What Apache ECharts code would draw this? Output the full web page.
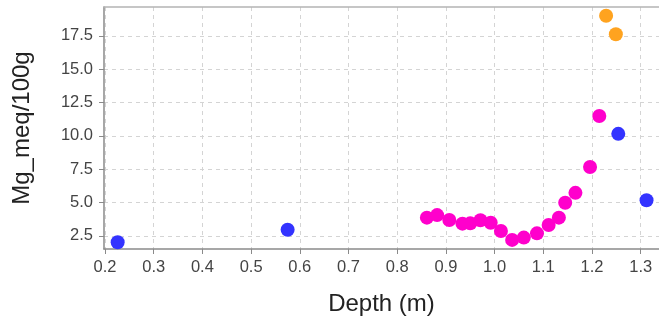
<!DOCTYPE html>
<html><head><meta charset="utf-8">
<script src="https://cdn.jsdelivr.net/npm/echarts@6/dist/echarts.min.js"></script>
<style>html,body{margin:0;padding:0;background:#fff}#c{width:659px;height:321px}</style>
</head><body><div id="c"></div>
<script>
const blueDepth = [0.226, 0.575, 1.254, 1.312];
const blueMg = [2.01, 2.95, 10.15, 5.17];
const magentaDepth = [0.861, 0.882, 0.907, 0.934, 0.950, 0.971, 0.992, 1.013, 1.036, 1.060, 1.087, 1.111, 1.132, 1.145, 1.166, 1.196, 1.215];
const magentaMg = [3.86, 4.05, 3.68, 3.41, 3.43, 3.66, 3.48, 2.86, 2.19, 2.36, 2.68, 3.31, 3.86, 4.98, 5.72, 7.66, 11.49];
const orangeDepth = [1.229, 1.249];
const orangeMg = [19.01, 17.63];
const xTicks = [0.2, 0.3, 0.4, 0.5, 0.6, 0.7, 0.8, 0.9, 1.0, 1.1, 1.2, 1.3];
const yTicks = [2.5, 5.0, 7.5, 10.0, 12.5, 15.0, 17.5];

const pair = (xs, ys) => xs.map((x, i) => [x, ys[i]]);
const font = 'Liberation Sans';
const chart = echarts.init(document.getElementById('c'), null, {renderer: 'canvas'});
const mk = (data, color) => ({
  type: 'scatter', data, symbolSize: 14, animation: false,
  itemStyle: {color, opacity: 1}
});
const X_MIN = 0.19795, X_MAX = 1.3376;
chart.setOption({
  animation: false,
  grid: {left: 104, right: 0, top: 7, bottom: 71, show: false},
  xAxis: [{
    type: 'value', min: X_MIN, max: X_MAX,
    name: 'Depth (m)', nameLocation: 'middle', nameGap: 43,
    nameTextStyle: {fontFamily: font, fontSize: 24, color: '#222'},
    axisLine: {show: true, lineStyle: {color: '#8a8a8a', width: 1.5}},
    axisTick: {show: true, length: 5, lineStyle: {color: '#8a8a8a'}, customValues: xTicks},
    axisLabel: {fontFamily: font, fontSize: 16.5, color: '#444', margin: 10, customValues: xTicks,
      formatter: v => v.toFixed(1)},
    splitLine: {show: true, lineStyle: {color: '#d4d4d4', type: [4, 4]}}
  }, {
    type: 'value', position: 'top', min: X_MIN, max: X_MAX,
    axisLine: {show: true, lineStyle: {color: '#b4b4b4', width: 1.5}},
    axisTick: {show: false}, axisLabel: {show: false}, splitLine: {show: false}
  }],
  yAxis: {
    type: 'value', min: 1.506, max: 19.67,
    name: 'Mg_meq/100g', nameLocation: 'middle', nameGap: 70, nameRotate: 90,
    nameTextStyle: {fontFamily: font, fontSize: 24, color: '#222'},
    axisLine: {show: true, lineStyle: {color: '#8a8a8a', width: 1.5}},
    axisTick: {show: true, length: 5, lineStyle: {color: '#8a8a8a'}, customValues: yTicks},
    axisLabel: {fontFamily: font, fontSize: 16.5, color: '#444', margin: 11, customValues: yTicks,
      formatter: v => v.toFixed(1)},
    splitLine: {show: true, lineStyle: {color: '#d4d4d4', type: [4, 4]}}
  },
  series: [
    mk(pair(blueDepth, blueMg), '#3333ff'),
    mk(pair(magentaDepth, magentaMg), '#ff00cc'),
    mk(pair(orangeDepth, orangeMg), '#ffa31f')
  ]
});
</script></body></html>
